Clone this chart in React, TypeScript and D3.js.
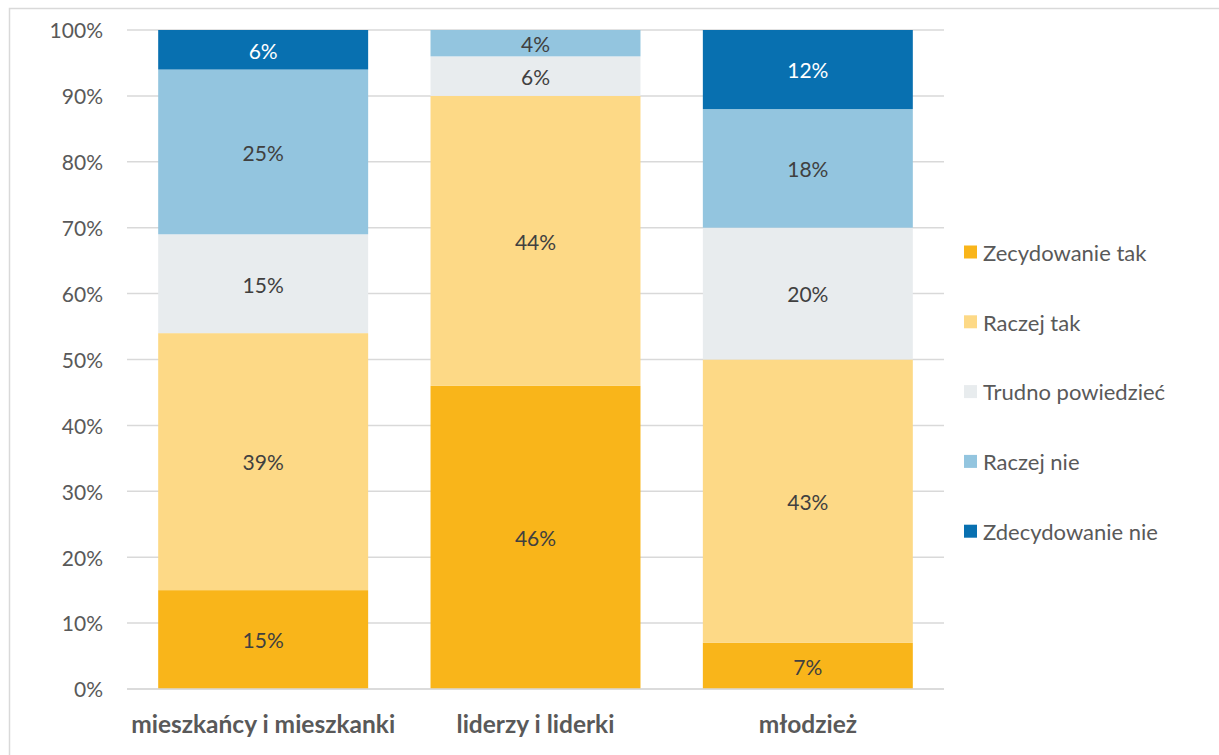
import React from "react";
import * as d3 from "d3";

const categories = ["mieszkańcy i mieszkanki", "liderzy i liderki", "młodzież"];
const seriesNames = ["Zecydowanie tak", "Raczej tak", "Trudno powiedzieć", "Raczej nie", "Zdecydowanie nie"];
const zdecydowanieTak = [15, 46, 7];
const raczejTak = [39, 44, 43];
const trudnoPowiedziec = [15, 6, 20];
const raczejNie = [25, 4, 18];
const zdecydowanieNie = [6, 0, 12];
const seriesColors = ["#F9B51A", "#FDD986", "#E8ECEE", "#93C5DF", "#0870B0"];
const labelColors = ["#404040", "#404040", "#404040", "#404040", "#FFFFFF"];
const yTicks = [0, 10, 20, 30, 40, 50, 60, 70, 80, 90, 100];

const FONT = "Lato, 'Open Sans', sans-serif";

export default function App() {
  const W = 1219, H = 755;
  const left = 127, right = 944, top = 30, bottom = 689;
  const seriesValues = [zdecydowanieTak, raczejTak, trudnoPowiedziec, raczejNie, zdecydowanieNie];
  const rows = categories.map((c, i) => {
    const r: any = { cat: c };
    seriesNames.forEach((s, k) => (r[s] = seriesValues[k][i]));
    return r;
  });
  const stacked = d3.stack<any>().keys(seriesNames)(rows);
  const x = d3.scaleBand().domain(categories).range([left, right]).paddingInner(0.229).paddingOuter(0.1145);
  const y = d3.scaleLinear().domain([0, 100]).range([bottom, top]);

  return (
    <svg width={W} height={H} style={{ position: "absolute", left: 0, top: 0, background: "#fff" }}>
      <rect x={9.5} y={8.5} width={W + 10} height={H + 10} fill="#fff" stroke="#D9D9D9" strokeWidth={1.5} />
      {yTicks.map((t) => (
        <g key={t}>
          <line x1={left} x2={right} y1={y(t)} y2={y(t)} stroke="#D9D9D9" strokeWidth={1.5} />
          <text x={103} y={y(t) + 1} dy="0.35em" textAnchor="end" fontFamily={FONT} fontSize={21} fill="#595959">
            {t}%
          </text>
        </g>
      ))}
      {stacked.map((layer, k) => (
        <g key={layer.key}>
          {layer.map((d, i) => {
            const v = d[1] - d[0];
            if (v <= 0) return null;
            const x0 = x(categories[i])!;
            return (
              <g key={i}>
                <rect x={x0} y={y(d[1])} width={x.bandwidth()} height={y(d[0]) - y(d[1])} fill={seriesColors[k]} />
                <text
                  x={x0 + x.bandwidth() / 2}
                  y={(y(d[0]) + y(d[1])) / 2 + 1.5}
                  dy="0.35em"
                  textAnchor="middle"
                  fontFamily={FONT}
                  fontSize={21}
                  fill={labelColors[k]}
                >
                  {v}%
                </text>
              </g>
            );
          })}
        </g>
      ))}
      <line x1={left} x2={right} y1={bottom} y2={bottom} stroke="#D9D9D9" strokeWidth={1.5} />
      {categories.map((c) => (
        <text
          key={c}
          x={x(c)! + x.bandwidth() / 2}
          y={724}
          dy="0.35em"
          textAnchor="middle"
          fontFamily={FONT}
          fontSize={24.5}
          fontWeight="bold"
          fill="#595959"
        >
          {c}
        </text>
      ))}
      {seriesNames.map((s, k) => {
        const ly = 252 + k * 69.8;
        return (
          <g key={s}>
            <rect x={964} y={ly - 6.5} width={13} height={13} fill={seriesColors[k]} />
            <text x={983} y={ly + 1} dy="0.35em" fontFamily={FONT} fontSize={22} fill="#595959">
              {s}
            </text>
          </g>
        );
      })}
    </svg>
  );
}
